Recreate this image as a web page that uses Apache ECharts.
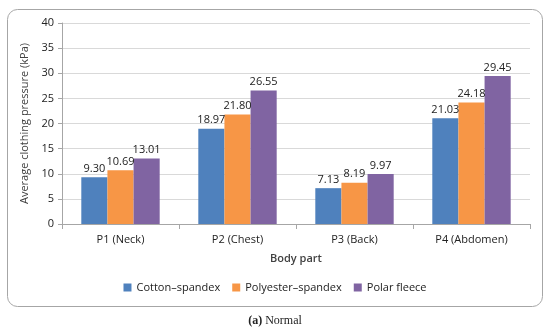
<!DOCTYPE html>
<html><head><meta charset="utf-8">
<script src="https://cdn.jsdelivr.net/npm/echarts@6/dist/echarts.min.js"></script>
<style>html,body{margin:0;padding:0;background:#fff}#c{width:550px;height:336px}</style>
</head><body><div id="c"></div>
<script>
const categories = ['P1 (Neck)', 'P2 (Chest)', 'P3 (Back)', 'P4 (Abdomen)'];
const cottonSpandex = [9.30, 18.97, 7.13, 21.03];
const polyesterSpandex = [10.69, 21.80, 8.19, 24.18];
const polarFleece = [13.01, 26.55, 9.97, 29.45];
const seriesNames = ['Cotton\u2013spandex', 'Polyester\u2013spandex', 'Polar fleece'];
const colors = ['#4F81BD', '#F79646', '#8064A2'];
const FONT = 'Open Sans';
const chart = echarts.init(document.getElementById('c'));
const mk = (name, data, color) => ({
  name, type: 'bar', data, barGap: '0%', barCategoryGap: '33%',
  itemStyle: { color },
  label: { show: true, position: 'top', distance: 3, color: '#222', fontFamily: FONT, fontSize: 11,
    formatter: p => p.value.toFixed(2) }
});
chart.setOption({
  animation: false,
  textStyle: { fontFamily: FONT },
  graphic: [{
    type: 'rect', shape: { x: 7.5, y: 9.5, width: 535, height: 297, r: 10 },
    style: { fill: 'none', stroke: '#a6a6a6', lineWidth: 1 }, silent: true
  }, {
    type: 'text', left: 'center', top: 315,
    style: { rich: { b: { fontWeight: 'bold', fontFamily: 'Liberation Serif', fontSize: 12, fill: '#222' },
                     n: { fontFamily: 'Liberation Serif', fontSize: 12, fill: '#222' } },
             text: '{b|(a)}{n| Normal}' }
  }],
  legend: {
    bottom: 38, left: 'center', itemWidth: 8, itemHeight: 8, itemGap: 12,
    icon: 'rect', textStyle: { fontFamily: FONT, fontSize: 11, color: '#222' },
    data: seriesNames
  },
  grid: { left: 62, right: 20, top: 23, bottom: 112 },
  xAxis: {
    type: 'category', data: categories,
    name: 'Body part', nameLocation: 'middle', nameGap: 29,
    nameTextStyle: { fontFamily: FONT, fontSize: 11, fontWeight: 600, color: '#404040' },
    axisLine: { lineStyle: { color: '#a6a6a6' } },
    axisTick: { show: true, length: 5, lineStyle: { color: '#a6a6a6' } },
    axisLabel: { fontFamily: FONT, fontSize: 11, color: '#222', margin: 10 }
  },
  yAxis: {
    type: 'value', min: 0, max: 40, interval: 5,
    name: 'Average clothing pressure (kPa)', nameLocation: 'middle', nameGap: 27,
    nameTextStyle: { fontFamily: FONT, fontSize: 11, fontWeight: 'normal', color: '#404040' },
    axisLine: { show: true, lineStyle: { color: '#a6a6a6' } },
    axisTick: { show: true, length: 4, lineStyle: { color: '#a6a6a6' } },
    axisLabel: { fontFamily: FONT, fontSize: 11, color: '#222', margin: 8 },
    splitLine: { lineStyle: { color: '#d9d9d9' } }
  },
  series: [
    mk(seriesNames[0], cottonSpandex, colors[0]),
    mk(seriesNames[1], polyesterSpandex, colors[1]),
    mk(seriesNames[2], polarFleece, colors[2])
  ]
});
</script></body></html>
